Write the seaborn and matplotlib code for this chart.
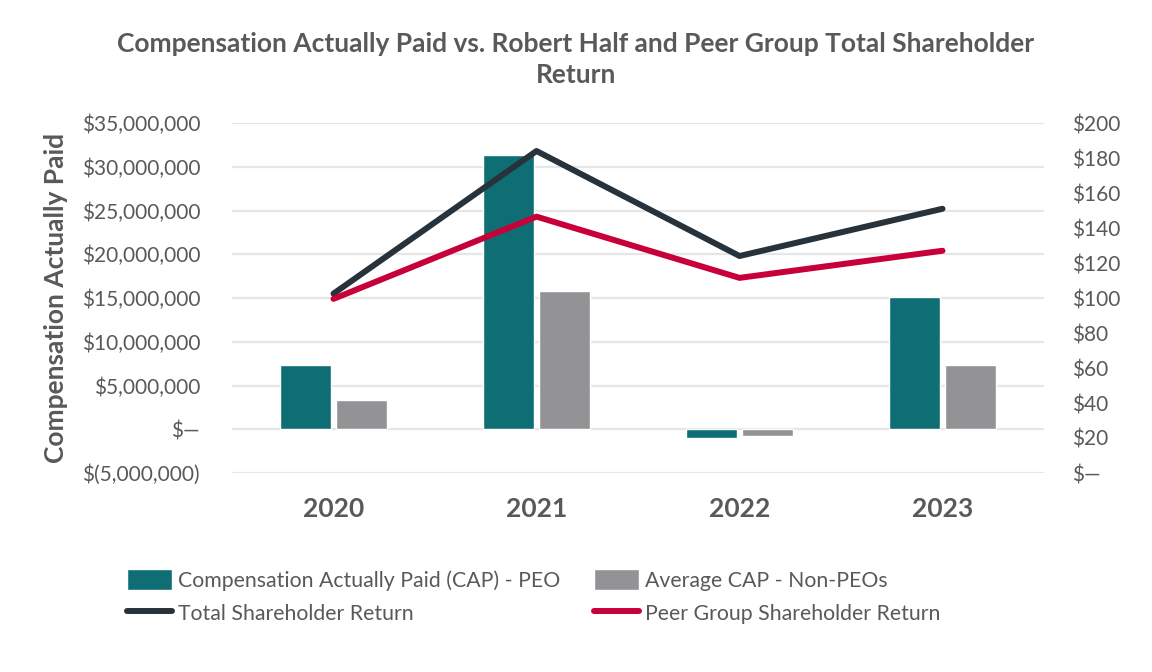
import numpy as np
import pandas as pd
import matplotlib
matplotlib.use("Agg")
import matplotlib.pyplot as plt
import matplotlib.ticker as mticker
from matplotlib.patches import Patch
from matplotlib.lines import Line2D
import seaborn as sns

# data
years = ["2020", "2021", "2022", "2023"]
cap_peo = [7.3e6, 31.4e6, -0.95e6, 15.1e6]
cap_non_peo = [3.4e6, 15.8e6, -0.75e6, 7.3e6]
tsr = [102.5, 184, 124, 151]
peer_tsr = [99.5, 146.5, 111.5, 127]

series_names = ["Compensation Actually Paid (CAP) - PEO", "Average CAP - Non-PEOs"]
line_names = ["Total Shareholder Return", "Peer Group Shareholder Return"]

teal = "#0E6E74"
grey = "#939396"
dark = "#27323A"
red = "#C8003A"
txt = "#595959"

df = pd.DataFrame({
    "year": years * 2,
    "value": cap_peo + cap_non_peo,
    "series": [series_names[0]] * 4 + [series_names[1]] * 4,
})

sns.set_theme(style="white")
plt.rcParams["font.family"] = ["Lato", "DejaVu Sans"]

fig = plt.figure(figsize=(11.52, 6.72), dpi=100)
ax = fig.add_axes([232 / 1152, 1 - 473 / 672, (1044 - 232) / 1152, (473 - 123) / 672])

sns.barplot(data=df, x="year", y="value", hue="series", order=years,
            palette=[teal, grey], saturation=1, width=0.55, gap=0.1, ax=ax,
            legend=False, zorder=2)
ax.set_ylim(-5e6, 35e6)
ax.set_xlim(-0.5, 3.5)
ax.yaxis.set_major_locator(mticker.MultipleLocator(5e6))


def money_fmt(v, pos):
    if abs(v) < 1:
        return "$\u2014"
    if v < 0:
        return "$({:,.0f})".format(-v)
    return "${:,.0f}".format(v)


ax.yaxis.set_major_formatter(mticker.FuncFormatter(money_fmt))
ax.grid(True, axis="y", color="#E6E6E6", linewidth=1.6, zorder=0)
ax.set_axisbelow(True)
for s in ax.spines.values():
    s.set_visible(False)
ax.tick_params(axis="y", length=0, pad=23, labelsize=15, labelcolor=txt)
ax.tick_params(axis="x", length=0, pad=17, labelsize=19, labelcolor=txt)
for lab in ax.get_xticklabels():
    lab.set_fontweight("bold")
ax.set_xlabel("")
ax.set_ylabel("Compensation Actually Paid", fontsize=19, fontweight="bold",
              color=txt, labelpad=10)

# right axis: shareholder return
ax2 = ax.twinx()
xpos = np.arange(len(years))
sns.lineplot(x=xpos, y=tsr, color=dark, linewidth=4.3, ax=ax2)
sns.lineplot(x=xpos, y=peer_tsr, color=red, linewidth=4.3, ax=ax2)
ax2.set_ylim(0, 200)
ax2.set_xlim(-0.5, 3.5)
ax2.yaxis.set_major_locator(mticker.MultipleLocator(20))
ax2.yaxis.set_major_formatter(mticker.FuncFormatter(
    lambda v, p: "$\u2014" if abs(v) < 0.5 else "${:.0f}".format(v)))
for s in ax2.spines.values():
    s.set_visible(False)
ax2.tick_params(axis="y", length=0, pad=20, labelsize=15, labelcolor=txt)
ax2.grid(False)

fig.suptitle("Compensation Actually Paid vs. Robert Half and Peer Group Total Shareholder\nReturn",
             x=0.5, y=0.952, fontsize=19, fontweight="bold", color=txt,
             linespacing=1.35)

handles = [
    Patch(facecolor=teal, label=series_names[0]),
    Line2D([0], [0], color=dark, linewidth=4.3, label=line_names[0]),
    Patch(facecolor=grey, label=series_names[1]),
    Line2D([0], [0], color=red, linewidth=4.3, label=line_names[1]),
]
leg = fig.legend(handles=handles, ncol=2, loc="upper left",
                 bbox_to_anchor=(108 / 1152, 1 - 550 / 672), frameon=False,
                 fontsize=15.3, handlelength=2.1, handleheight=1.1,
                 handletextpad=0.3, columnspacing=1.6, labelspacing=0.55)
for t in leg.get_texts():
    t.set_color(txt)

fig.savefig("out.png", dpi=100)
